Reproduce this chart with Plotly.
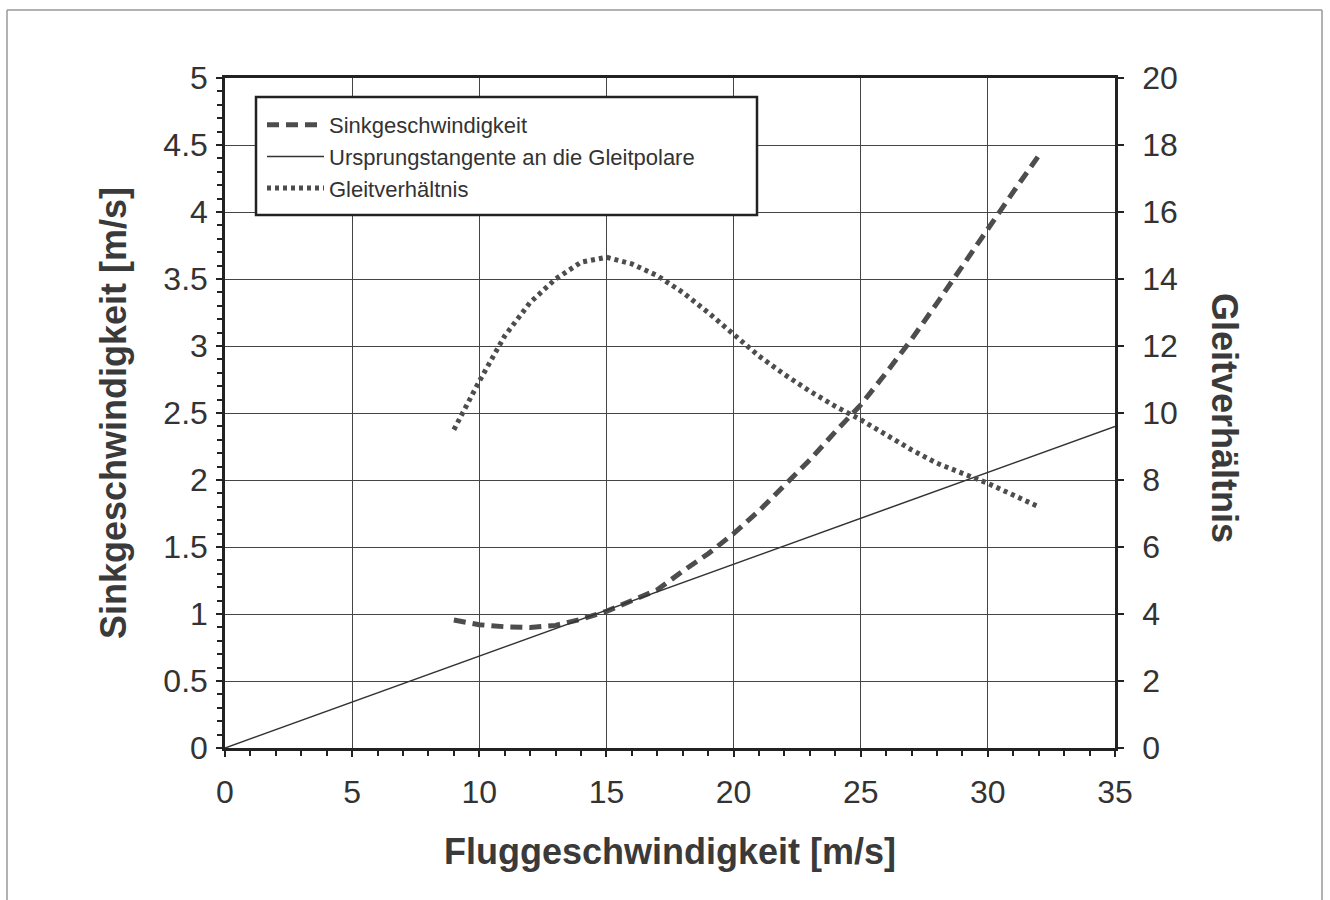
import plotly.graph_objects as go

# Data
speed = [9, 10, 11, 12, 13, 14, 15, 16, 17, 18, 19, 20, 21, 22, 23, 24, 25, 26, 27, 28, 29, 30, 31, 32]
sink = [0.955, 0.92, 0.905, 0.90, 0.915, 0.96, 1.02, 1.10, 1.18, 1.32, 1.45, 1.60, 1.77, 1.96,
        2.15, 2.36, 2.56, 2.80, 3.05, 3.32, 3.60, 3.88, 4.15, 4.42]
glide = [9.5, 10.95, 12.3, 13.3, 14.0, 14.5, 14.65, 14.45, 14.1, 13.6, 13.0, 12.35, 11.7, 11.15,
         10.65, 10.2, 9.8, 9.35, 8.9, 8.5, 8.2, 7.9, 7.55, 7.2]
tangent_x = [0, 35]
tangent_y = [0, 2.4]

names = ["Sinkgeschwindigkeit", "Ursprungstangente an die Gleitpolare", "Gleitverhältnis"]

FONT = "Liberation Sans, Arial, sans-serif"
W, H = 1330, 900
L, R, T, B = 225, 215, 78, 152
pw, ph = W - L - R, H - T - B

def px(x):
    return (x - L) / pw

def py(y):
    return (H - B - y) / ph

fig = go.Figure()
fig.add_trace(go.Scatter(x=speed, y=sink, name=names[0], mode="lines",
                         line=dict(color="#4d4d4d", width=5, dash="12px,7px")))
fig.add_trace(go.Scatter(x=tangent_x, y=tangent_y, name=names[1], mode="lines",
                         line=dict(color="#333333", width=1.5)))
fig.add_trace(go.Scatter(x=speed, y=glide, name=names[2], mode="lines", yaxis="y2",
                         line=dict(color="#4d4d4d", width=5, dash="4px,4px")))

axis_common = dict(showline=True, linecolor="#222222", linewidth=2.5,
                   tickfont=dict(family=FONT, size=32, color="#333333"),
                   ticks="outside", ticklen=6, tickwidth=1.5, tickcolor="#222222")

TITLE_FONT = dict(family=FONT, size=36, color="#3a3a3a")

fig.update_layout(
    width=W, height=H,
    margin=dict(l=L, r=R, t=T, b=B),
    paper_bgcolor="white", plot_bgcolor="white",
    font=dict(family=FONT, color="#333333"),
    showlegend=True,
    legend=dict(x=px(262), y=py(104), xanchor="left", yanchor="top",
                bgcolor="rgba(0,0,0,0)", borderwidth=0,
                font=dict(family=FONT, size=22, color="#333333"),
                tracegroupgap=0, itemwidth=57),
    xaxis=dict(range=[0, 35], dtick=5, tick0=0, showgrid=True, gridcolor="#444444", gridwidth=1.3,
               mirror=True, zeroline=False, ticklabelstandoff=8,
               minor=dict(dtick=1, ticks="outside", ticklen=5, tickcolor="#222222", showgrid=False),
               title=dict(text="<b>Fluggeschwindigkeit [m/s]</b>", font=TITLE_FONT, standoff=30),
               **axis_common),
    yaxis=dict(range=[0, 5], dtick=0.5, tick0=0, showgrid=True, gridcolor="#444444", gridwidth=1.3,
               zeroline=False, ticklabelstandoff=2,
               minor=dict(dtick=0.1, ticks="outside", ticklen=5, tickcolor="#222222", showgrid=False),
               title=dict(text="<b>Sinkgeschwindigkeit [m/s]</b>", font=TITLE_FONT, standoff=26),
               **axis_common),
    yaxis2=dict(range=[0, 20], dtick=2, tick0=0, overlaying="y", side="right", showgrid=False,
                zeroline=False, ticklabelstandoff=12, **axis_common),
)

# Right axis title reading top-to-bottom
fig.add_annotation(text="<b>Gleitverhältnis</b>", xref="paper", yref="paper",
                   x=px(1225), y=py(418), xanchor="center", yanchor="middle",
                   showarrow=False, textangle=90, font=TITLE_FONT)

# Legend box
fig.add_shape(type="rect", xref="paper", yref="paper",
              x0=px(256), x1=px(757), y0=py(215), y1=py(97),
              line=dict(color="#222222", width=2.5), fillcolor="white", layer="above")

# Outer frame of the picture
for (x0, y0, x1, y1) in [(7, 10, 1322, 10), (7, 10, 7, 900), (1322, 10, 1322, 900)]:
    fig.add_shape(type="line", xref="paper", yref="paper",
                  x0=px(x0), x1=px(x1), y0=py(y0), y1=py(y1),
                  line=dict(color="#999999", width=1.5))

fig.write_html("out.html")
